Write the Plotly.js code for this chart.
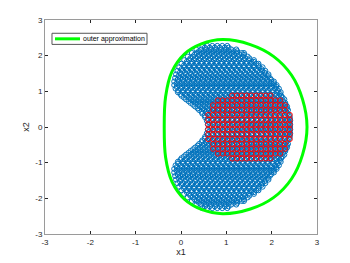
<!DOCTYPE html>
<html>
<head>
<meta charset="utf-8">
<script src="https://cdn.plot.ly/plotly-3.0.1.min.js"></script>
<style>html,body{margin:0;padding:0;background:#fff;}#chart{width:350px;height:263px;}</style>
</head>
<body>
<div id="chart"></div>
<script>
// Blue sampled set: rows (y) with leftmost/rightmost circle centres (upper half; lower half mirrored)
var blueRowY    = [2.25, 2.15, 2.05, 1.95, 1.85, 1.75, 1.65, 1.55, 1.45, 1.35, 1.25, 1.15, 1.05, 0.95, 0.85, 0.75, 0.65, 0.55, 0.45, 0.35, 0.25, 0.15, 0.05];
var blueRowXmin = [0.47, 0.34, 0.24, 0.15, 0.07, 0.01, -0.04, -0.08, -0.11, -0.13, -0.15, -0.15, -0.12, -0.07, 0.01, 0.11, 0.21, 0.31, 0.40, 0.47, 0.53, 0.57, 0.59];
var blueRowXmax = [1.05, 1.24, 1.39, 1.51, 1.61, 1.71, 1.80, 1.86, 1.93, 1.99, 2.05, 2.11, 2.16, 2.20, 2.24, 2.28, 2.31, 2.34, 2.36, 2.38, 2.40, 2.41, 2.41];
var blueStepX = 0.11;
var blueSubRows = [0.025, -0.025];

// Red grid of initial states
var redCols  = [0.6, 0.706, 0.812, 0.918, 1.024, 1.129, 1.235, 1.341, 1.447, 1.553, 1.659, 1.765, 1.871, 1.976, 2.082, 2.188, 2.294, 2.4];
var redY     = [0.885, 0.749, 0.613, 0.477, 0.34, 0.204, 0.068, -0.068, -0.204, -0.34, -0.477, -0.613, -0.749, -0.885];
var redFirst = [5, 2, 1, 1, 0, 0, 0, 0, 0, 0, 1, 1, 2, 5];
var redLast  = [13, 15, 16, 16, 17, 17, 17, 17, 17, 17, 16, 16, 15, 13];

// Outer approximation curve
var outerX = [-0.37, -0.34, -0.20, 0.08, 0.45, 0.92, 1.53, 2.04, 2.44, 2.68, 2.78, 2.68, 2.44, 2.04, 1.53, 0.92, 0.45, 0.08, -0.20, -0.34, -0.37];
var outerY = [0.0, 0.85, 1.55, 2.05, 2.33, 2.45, 2.31, 1.98, 1.45, 0.78, 0.0, -0.78, -1.45, -1.98, -2.30, -2.43, -2.31, -2.03, -1.53, -0.85, 0.0];
var outerName = 'outer approximation';

var tickVals = [-3, -2, -1, 0, 1, 2, 3];
var tickText = ['-3', '-2', '-1', '0', '1', '2', '3'];

// build blue points
var bx = [], by = [];
var rowCount = 0;
function addRow(y, x0, x1) {
  var off = (rowCount % 2) ? blueStepX / 2 : 0;
  rowCount++;
  var last = null;
  for (var x = x0 + off; x <= x1 + 1e-9; x += blueStepX) { bx.push(x); by.push(y); last = x; }
  if (last === null || last < x1 - 0.04) { bx.push(x1); by.push(y); }
}
for (var i = 0; i < blueRowY.length; i++) {
  for (var s = 0; s < blueSubRows.length; s++) {
    addRow(blueRowY[i] + blueSubRows[s], blueRowXmin[i], blueRowXmax[i]);
  }
}
for (var i2 = 0; i2 < blueRowY.length; i2++) {
  for (var s2 = 0; s2 < blueSubRows.length; s2++) {
    addRow(-(blueRowY[i2] + blueSubRows[s2]), blueRowXmin[i2], blueRowXmax[i2]);
  }
}
var rx = [], ry = [];
for (var r = 0; r < redY.length; r++) {
  for (var k = redFirst[r]; k <= redLast[r]; k++) { rx.push(redCols[k]); ry.push(redY[r]); }
}

var traces = [
  {type: 'scatter', mode: 'markers', x: bx, y: by, showlegend: false, hoverinfo: 'skip',
   marker: {symbol: 'circle-open', size: 5, color: '#0072BD', line: {width: 1}}},
  {type: 'scatter', mode: 'markers', x: rx, y: ry, showlegend: false, hoverinfo: 'skip',
   marker: {symbol: 'circle-open', size: 5, color: '#FF0000', line: {width: 1}}},
  {type: 'scatter', mode: 'lines', x: outerX, y: outerY, name: outerName, showlegend: false,
   line: {color: '#00FF00', width: 3, shape: 'spline', smoothing: 1}}
];

var axisCommon = {
  range: [-3, 3], tickvals: tickVals, ticktext: tickText, ticks: 'inside', ticklen: 3,
  tickcolor: '#262626', showline: true, linecolor: '#9a9a9a', linewidth: 1, mirror: 'ticks',
  showgrid: false, zeroline: false, tickfont: {family: 'Liberation Sans, Arial', size: 8, color: '#262626'}
};
var layout = {
  width: 350, height: 263,
  margin: {l: 45, r: 33, t: 20, b: 29},
  paper_bgcolor: '#ffffff', plot_bgcolor: '#ffffff',
  xaxis: Object.assign({}, axisCommon, {title: {text: 'x1', font: {family: 'Liberation Sans, Arial', size: 9, color: '#262626'}, standoff: 2}}),
  yaxis: Object.assign({}, axisCommon, {title: {text: 'x2', font: {family: 'Liberation Sans, Arial', size: 9, color: '#262626'}, standoff: 4}}),
  showlegend: false,
  shapes: [
    {type: 'rect', xref: 'paper', yref: 'paper', x0: 0.0257, x1: 0.375, y0: 0.886, y1: 0.938,
     fillcolor: '#ffffff', line: {color: '#555555', width: 1}},
    {type: 'line', xref: 'paper', yref: 'paper', x0: 0.0368, x1: 0.1287, y0: 0.912, y1: 0.912,
     line: {color: '#00FF00', width: 3}}
  ],
  annotations: [
    {xref: 'paper', yref: 'paper', x: 0.134, y: 0.912, xanchor: 'left', yanchor: 'middle', showarrow: false,
     text: outerName, font: {family: 'Liberation Sans, Arial', size: 7, color: '#000'}}
  ]
};
Plotly.newPlot('chart', traces, layout, {staticPlot: true, displayModeBar: false});
</script>
</body>
</html>
